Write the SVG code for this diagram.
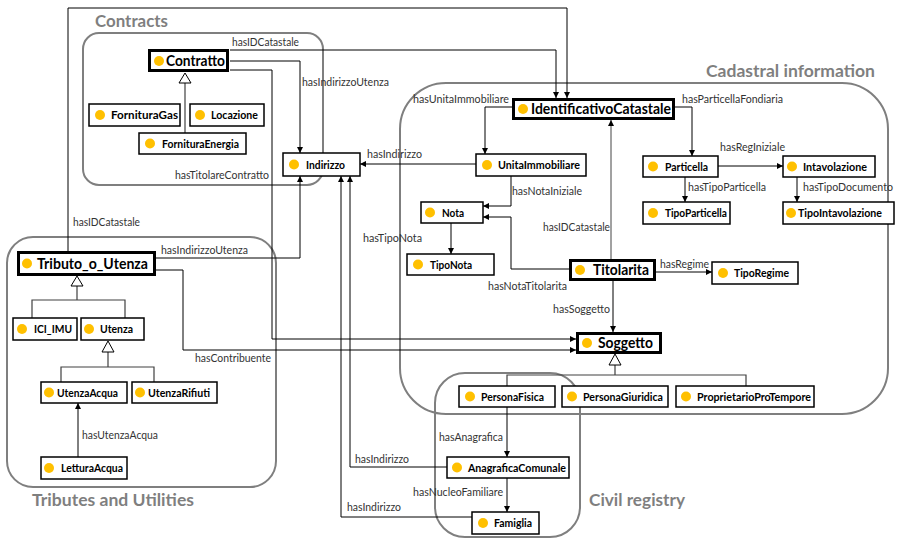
<svg xmlns="http://www.w3.org/2000/svg" width="902" height="539" viewBox="0 0 902 539">
<style>
.grp{fill:none;stroke:#7f7f7f;stroke-width:2}
.gt{font-family:Lato,"Liberation Sans",sans-serif;font-weight:bold;font-size:17px;fill:#7f7f7f}
.n rect{fill:#fff;stroke:#000;stroke-width:1.5}
.m rect{fill:#fff;stroke:#000;stroke-width:3}
.dot{fill:#FFC000}
.n text{font-family:Lato,"Liberation Sans",sans-serif;font-weight:bold;font-size:10.5px;fill:#000}
.m text{font-family:Lato,"Liberation Sans",sans-serif;font-weight:bold;font-size:15px;fill:#000}
.e{fill:none;stroke:#000;stroke-width:1;marker-end:url(#ah)}
.g{fill:none;stroke:#404040;stroke-width:1.2}
.tri{fill:#fff;stroke:#000;stroke-width:1}
.lbl{font-family:Lato,"Liberation Sans",sans-serif;font-size:10.5px;fill:#333}
</style>
<defs>
<marker id="ah" markerUnits="userSpaceOnUse" markerWidth="7" markerHeight="7" refX="6" refY="3" orient="auto">
<path d="M0,0 L6,3 L0,6 z" fill="#000"/>
</marker>
</defs>
<rect width="902" height="539" fill="#fff"/>

<g id="groups">
<rect class="grp" x="83" y="33" width="240" height="152" rx="16"/>
<text class="gt" x="95" y="27" textLength="73" lengthAdjust="spacingAndGlyphs">Contracts</text>
<rect class="grp" x="400" y="83" width="488" height="331" rx="46"/>
<text class="gt" x="706" y="77" textLength="169" lengthAdjust="spacingAndGlyphs">Cadastral information</text>
<rect class="grp" x="7" y="237" width="269" height="250" rx="26"/>
<text class="gt" x="32" y="506" textLength="162" lengthAdjust="spacingAndGlyphs">Tributes and Utilities</text>
<rect class="grp" x="435" y="373" width="145" height="164" rx="30"/>
<text class="gt" x="589" y="506" textLength="96" lengthAdjust="spacingAndGlyphs">Civil registry</text>
</g>

<g id="connectors">
<path class="e" d="M68,251 V8 H567 V98"/>
<path class="e" d="M230,50 H556 V98"/>
<path class="e" d="M230,61 H300 V153"/>
<path class="e" d="M230,70 H272 V339 H576"/>
<path class="e" d="M156,258 H300 V176"/>
<path class="e" d="M156,270 H183 V350 H576"/>
<path class="e" d="M447,467 H350 V176"/>
<path class="e" d="M472,517 H341 V176"/>
<path class="e" d="M476,164 H360"/>
<path class="e" d="M512,107 H485 V154"/>
<path class="e" d="M675,107 H692 V156"/>
<path class="e" d="M718,166 H783"/>
<path class="e" d="M685,177 V202"/>
<path class="e" d="M797,177 V202"/>
<path class="e" d="M511,176 V206 H483"/>
<path class="e" d="M569,269 H511 V217 H483"/>
<path class="e" d="M451,223 V254"/>
<path class="e" d="M611,260 V120" style="stroke:#444"/>
<path class="e" d="M656,272 H712"/>
<path class="e" d="M613,281 V332"/>
<path class="e" d="M78,457 V403"/>
<path class="e" d="M507,407 V457"/>
<path class="e" d="M507,478 V512"/>
<path class="g" d="M185,83 V133"/>
<path class="g" d="M77,286 V300 M32,318 V300 H125 V318"/>
<path class="g" d="M108,352 V367 M61,382 V367 H154 V382"/>
<path class="g" d="M615,365 V375 M507,386 V375 H746 V386"/>
<polygon class="tri" points="185,73 191,83 179,83"/>
<polygon class="tri" points="77,276 83,286 71,286"/>
<polygon class="tri" points="108,341 114,352 102,352"/>
<polygon class="tri" points="615,354 621,365 609,365"/>
<text class="lbl" x="232" y="46" textLength="67" lengthAdjust="spacingAndGlyphs">hasIDCatastale</text>
<text class="lbl" x="302" y="86" textLength="87" lengthAdjust="spacingAndGlyphs">hasIndirizzoUtenza</text>
<text class="lbl" x="175" y="179" textLength="94" lengthAdjust="spacingAndGlyphs">hasTitolareContratto</text>
<text class="lbl" x="73" y="226" textLength="67" lengthAdjust="spacingAndGlyphs">hasIDCatastale</text>
<text class="lbl" x="161" y="254" textLength="87" lengthAdjust="spacingAndGlyphs">hasIndirizzoUtenza</text>
<text class="lbl" x="195" y="362" textLength="76" lengthAdjust="spacingAndGlyphs">hasContribuente</text>
<text class="lbl" x="82" y="439" textLength="76" lengthAdjust="spacingAndGlyphs">hasUtenzaAcqua</text>
<text class="lbl" x="413" y="103" textLength="96" lengthAdjust="spacingAndGlyphs">hasUnitaImmobiliare</text>
<text class="lbl" x="367" y="158" textLength="55" lengthAdjust="spacingAndGlyphs">hasIndirizzo</text>
<text class="lbl" x="512" y="195" textLength="70" lengthAdjust="spacingAndGlyphs">hasNotaIniziale</text>
<text class="lbl" x="682" y="103" textLength="101" lengthAdjust="spacingAndGlyphs">hasParticellaFondiaria</text>
<text class="lbl" x="720" y="151" textLength="65" lengthAdjust="spacingAndGlyphs">hasRegIniziale</text>
<text class="lbl" x="688" y="191" textLength="78" lengthAdjust="spacingAndGlyphs">hasTipoParticella</text>
<text class="lbl" x="803" y="191" textLength="90" lengthAdjust="spacingAndGlyphs">hasTipoDocumento</text>
<text class="lbl" x="363" y="242" textLength="59" lengthAdjust="spacingAndGlyphs">hasTipoNota</text>
<text class="lbl" x="543" y="231" textLength="67" lengthAdjust="spacingAndGlyphs">hasIDCatastale</text>
<text class="lbl" x="488" y="290" textLength="79" lengthAdjust="spacingAndGlyphs">hasNotaTitolarita</text>
<text class="lbl" x="660" y="268" textLength="49" lengthAdjust="spacingAndGlyphs">hasRegime</text>
<text class="lbl" x="553" y="313" textLength="57" lengthAdjust="spacingAndGlyphs">hasSoggetto</text>
<text class="lbl" x="439" y="441" textLength="64" lengthAdjust="spacingAndGlyphs">hasAnagrafica</text>
<text class="lbl" x="355" y="463" textLength="54" lengthAdjust="spacingAndGlyphs">hasIndirizzo</text>
<text class="lbl" x="413" y="496" textLength="90" lengthAdjust="spacingAndGlyphs">hasNucleoFamiliare</text>
<text class="lbl" x="347" y="511" textLength="54" lengthAdjust="spacingAndGlyphs">hasIndirizzo</text>
</g>

<g id="Contratto" class="m"><rect x="149.5" y="50.5" width="78" height="20"/><circle class="dot" cx="159" cy="61" r="5"/><text x="166" y="66" textLength="59" lengthAdjust="spacingAndGlyphs">Contratto</text></g>
<g id="FornituraGas" class="n"><rect x="89" y="104" width="91" height="22"/><circle class="dot" cx="100" cy="115" r="5"/><text x="111" y="119" textLength="67" lengthAdjust="spacingAndGlyphs">FornituraGas</text></g>
<g id="Locazione" class="n"><rect x="190" y="104" width="74" height="22"/><circle class="dot" cx="200" cy="115" r="5"/><text x="211" y="119" textLength="47" lengthAdjust="spacingAndGlyphs">Locazione</text></g>
<g id="FornituraEnergia" class="n"><rect x="139" y="133" width="107" height="21"/><circle class="dot" cx="150" cy="143.5" r="5"/><text x="162" y="147.5" textLength="77" lengthAdjust="spacingAndGlyphs">FornituraEnergia</text></g>
<g id="Indirizzo" class="n"><rect x="283" y="153" width="77" height="23"/><circle class="dot" cx="294" cy="164.5" r="5"/><text x="306" y="168.5" textLength="39" lengthAdjust="spacingAndGlyphs">Indirizzo</text></g>
<g id="IdentificativoCatastale" class="m"><rect x="513.5" y="99.5" width="160" height="19"/><circle class="dot" cx="523" cy="109" r="5"/><text x="531" y="114" textLength="140" lengthAdjust="spacingAndGlyphs">IdentificativoCatastale</text></g>
<g id="UnitaImmobiliare" class="n"><rect x="476" y="154" width="110" height="22"/><circle class="dot" cx="487" cy="165" r="5"/><text x="498" y="169" textLength="82" lengthAdjust="spacingAndGlyphs">UnitaImmobiliare</text></g>
<g id="Particella" class="n"><rect x="643" y="156" width="75" height="21"/><circle class="dot" cx="653" cy="166.5" r="5"/><text x="665" y="170.5" textLength="43" lengthAdjust="spacingAndGlyphs">Particella</text></g>
<g id="Intavolazione" class="n"><rect x="783" y="156" width="92" height="21"/><circle class="dot" cx="792" cy="166.5" r="5"/><text x="803" y="170.5" textLength="64" lengthAdjust="spacingAndGlyphs">Intavolazione</text></g>
<g id="TipoParticella" class="n"><rect x="643" y="202" width="87" height="22"/><circle class="dot" cx="653" cy="213" r="5"/><text x="665" y="217" textLength="62" lengthAdjust="spacingAndGlyphs">TipoParticella</text></g>
<g id="TipoIntavolazione" class="n"><rect x="783" y="202" width="111" height="22"/><circle class="dot" cx="791" cy="213" r="5"/><text x="798" y="217" textLength="84" lengthAdjust="spacingAndGlyphs">TipoIntavolazione</text></g>
<g id="Nota" class="n"><rect x="421" y="202" width="62" height="21"/><circle class="dot" cx="430" cy="212.5" r="5"/><text x="442" y="216.5" textLength="22" lengthAdjust="spacingAndGlyphs">Nota</text></g>
<g id="TipoNota" class="n"><rect x="407" y="254" width="87" height="21"/><circle class="dot" cx="418" cy="264.5" r="5"/><text x="430" y="268.5" textLength="42" lengthAdjust="spacingAndGlyphs">TipoNota</text></g>
<g id="Titolarita" class="m"><rect x="570.5" y="260.5" width="84" height="19"/><circle class="dot" cx="580" cy="270" r="5"/><text x="593" y="275" textLength="56" lengthAdjust="spacingAndGlyphs">Titolarita</text></g>
<g id="TipoRegime" class="n"><rect x="712" y="262" width="86" height="22"/><circle class="dot" cx="723" cy="273" r="5"/><text x="734" y="277" textLength="55" lengthAdjust="spacingAndGlyphs">TipoRegime</text></g>
<g id="Soggetto" class="m"><rect x="577.5" y="333.5" width="83" height="19"/><circle class="dot" cx="587" cy="343" r="5"/><text x="598" y="348" textLength="55" lengthAdjust="spacingAndGlyphs">Soggetto</text></g>
<g id="PersonaFisica" class="n"><rect x="459" y="386" width="96" height="21"/><circle class="dot" cx="470" cy="396.5" r="5"/><text x="481" y="400.5" textLength="63" lengthAdjust="spacingAndGlyphs">PersonaFisica</text></g>
<g id="PersonaGiuridica" class="n"><rect x="562" y="386" width="106" height="21"/><circle class="dot" cx="572" cy="396.5" r="5"/><text x="583" y="400.5" textLength="80" lengthAdjust="spacingAndGlyphs">PersonaGiuridica</text></g>
<g id="ProprietarioProTempore" class="n"><rect x="676" y="386" width="138" height="21"/><circle class="dot" cx="686" cy="396.5" r="5"/><text x="697" y="400.5" textLength="114" lengthAdjust="spacingAndGlyphs">ProprietarioProTempore</text></g>
<g id="AnagraficaComunale" class="n"><rect x="447" y="457" width="122" height="21"/><circle class="dot" cx="457" cy="467.5" r="5"/><text x="468" y="471.5" textLength="98" lengthAdjust="spacingAndGlyphs">AnagraficaComunale</text></g>
<g id="Famiglia" class="n"><rect x="472" y="512" width="67" height="22"/><circle class="dot" cx="483" cy="523" r="5"/><text x="494" y="527" textLength="38" lengthAdjust="spacingAndGlyphs">Famiglia</text></g>
<g id="Tributo_o_Utenza" class="m"><rect x="18.5" y="252.5" width="136" height="22"/><circle class="dot" cx="27" cy="263.5" r="5"/><text x="37" y="269" textLength="111" lengthAdjust="spacingAndGlyphs">Tributo_o_Utenza</text></g>
<g id="ICI_IMU" class="n"><rect x="13" y="318" width="64" height="22"/><circle class="dot" cx="22" cy="329" r="5"/><text x="34" y="333" textLength="38" lengthAdjust="spacingAndGlyphs">ICI_IMU</text></g>
<g id="Utenza" class="n"><rect x="81" y="318" width="63" height="22"/><circle class="dot" cx="89" cy="329" r="5"/><text x="100" y="333" textLength="33" lengthAdjust="spacingAndGlyphs">Utenza</text></g>
<g id="UtenzaAcqua" class="n"><rect x="41" y="382" width="86" height="21"/><circle class="dot" cx="49" cy="392.5" r="5"/><text x="57" y="396.5" textLength="61" lengthAdjust="spacingAndGlyphs">UtenzaAcqua</text></g>
<g id="UtenzaRifiuti" class="n"><rect x="132" y="382" width="85" height="21"/><circle class="dot" cx="140" cy="392.5" r="5"/><text x="148" y="396.5" textLength="62" lengthAdjust="spacingAndGlyphs">UtenzaRifiuti</text></g>
<g id="LetturaAcqua" class="n"><rect x="41" y="457" width="86" height="22"/><circle class="dot" cx="49" cy="468" r="5"/><text x="61" y="472" textLength="62" lengthAdjust="spacingAndGlyphs">LetturaAcqua</text></g>
</svg>
